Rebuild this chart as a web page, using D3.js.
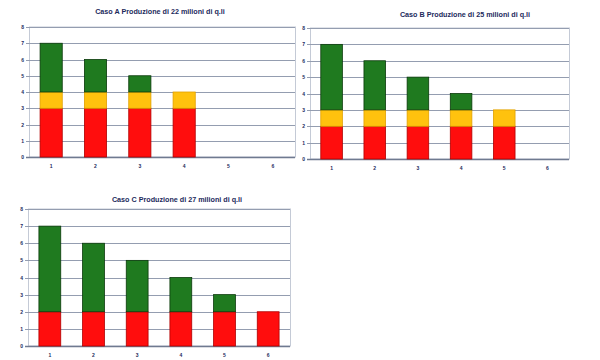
<!DOCTYPE html>
<html><head><meta charset="utf-8">
<script src="https://cdn.jsdelivr.net/npm/d3@7/dist/d3.min.js"></script>
<style>body{margin:0;background:#fff}svg{display:block}</style>
</head><body>
<svg id="c" width="600" height="360"></svg>
<script>
const categories = ["1","2","3","4","5","6"];
const yTicks = [0,1,2,3,4,5,6,7,8];
const seriesNames = ["rosso","giallo","verde"];
const titles = ["Caso A Produzione di 22 milioni di q.li","Caso B Produzione di 25 milioni di q.li","Caso C Produzione di 27 milioni di q.li"];
const caseA_red = [3,3,3,3,0,0];
const caseA_yellow = [1,1,1,1,0,0];
const caseA_green = [3,2,1,0,0,0];
const caseB_red = [2,2,2,2,2,0];
const caseB_yellow = [1,1,1,1,1,0];
const caseB_green = [4,3,2,1,0,0];
const caseC_red = [2,2,2,2,2,2];
const caseC_yellow = [0,0,0,0,0,0];
const caseC_green = [5,4,3,2,1,0];

const colors = {rosso:"#ff0d0d", giallo:"#ffc20e", verde:"#1f7a1f"};
const strokes = {rosso:"#b00000", giallo:"#e0a000", verde:"#0b3a0b"};

const panels = [
  {title:titles[0], red:caseA_red, yellow:caseA_yellow, green:caseA_green, x0:29, x1:295, y0:157, y1:27, tx:160, ty:14},
  {title:titles[1], red:caseB_red, yellow:caseB_yellow, green:caseB_green, x0:310, x1:569, y0:159, y1:28, tx:465, ty:17},
  {title:titles[2], red:caseC_red, yellow:caseC_yellow, green:caseC_green, x0:28, x1:290, y0:346, y1:209, tx:177, ty:202}
];

const svg = d3.select("#c");

panels.forEach(p => {
  const g = svg.append("g");
  const x = d3.scaleBand().domain(categories).range([p.x0, p.x1]).paddingInner(0.5).paddingOuter(0.25);
  const y = d3.scaleLinear().domain([0,8]).range([p.y0, p.y1]);
  const rows = categories.map((c,i)=>({cat:c, rosso:p.red[i], giallo:p.yellow[i], verde:p.green[i]}));
  const stacked = d3.stack().keys(seriesNames)(rows);

  g.append("rect").attr("x",p.x0+0.5).attr("y",p.y1).attr("width",p.x1-p.x0).attr("height",p.y0-p.y1)
    .attr("fill","none").attr("stroke","#c4cad6").attr("stroke-width",1);
  g.selectAll(".grid").data(yTicks).join("line")
    .attr("x1",p.x0-3).attr("x2",p.x1)
    .attr("y1",d=>Math.round(y(d))+0.5).attr("y2",d=>Math.round(y(d))+0.5)
    .attr("stroke",d=>d===0?"#6f7a90":"#949db0").attr("stroke-width",d=>d===0?1.3:1);

  stacked.forEach(s => {
    g.append("g").selectAll("rect").data(s.filter(d=>d[1]-d[0]>0)).join("rect")
      .attr("x",d=>x(d.data.cat)).attr("width",x.bandwidth())
      .attr("y",d=>y(d[1])).attr("height",d=>y(d[0])-y(d[1]))
      .attr("fill",colors[s.key]).attr("stroke",strokes[s.key]).attr("stroke-width",0.8);
  });

  const ya = d3.axisLeft(y).tickValues(yTicks).tickSize(0).tickPadding(5);
  const yg = g.append("g").attr("transform",`translate(${p.x0},0)`).call(ya);
  yg.select(".domain").remove();
  yg.selectAll("text").attr("font-size",5).attr("font-family","Arial, Liberation Sans, sans-serif").attr("font-weight","bold").attr("fill","#1c2a5c");

  const xa = d3.axisBottom(x).tickSize(0).tickPadding(7);
  const xg = g.append("g").attr("transform",`translate(0,${p.y0})`).call(xa);
  xg.select(".domain").remove();
  xg.selectAll("text").attr("font-size",5).attr("font-family","Arial, Liberation Sans, sans-serif").attr("font-weight","bold").attr("fill","#1c2a5c");

  g.append("text").attr("x",p.tx).attr("y",p.ty).attr("text-anchor","middle")
    .attr("font-family","Arial, Liberation Sans, sans-serif").attr("font-weight","bold")
    .attr("font-size",7.2).attr("fill","#1c2a5c").text(p.title);
});
</script>
</body></html>
